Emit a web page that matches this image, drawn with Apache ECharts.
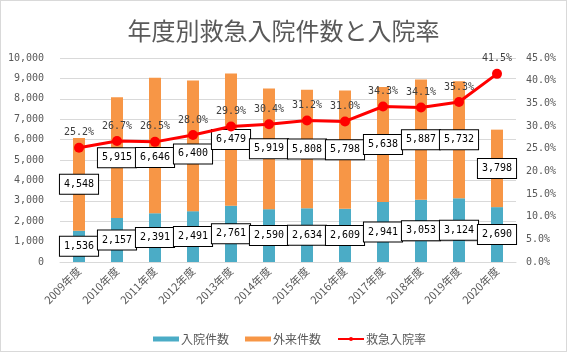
<!DOCTYPE html>
<html><head><meta charset="utf-8">
<script src="https://cdn.jsdelivr.net/npm/echarts@6/dist/echarts.min.js"></script>
<style>html,body{margin:0;padding:0;background:#fff}#c{width:567px;height:352px;box-sizing:border-box;border:1px solid #d9d9d9}</style>
</head><body><div id="c"></div>
<script>
const categories = ['2009年度','2010年度','2011年度','2012年度','2013年度','2014年度','2015年度','2016年度','2017年度','2018年度','2019年度','2020年度'];
const inpatient = [1536,2157,2391,2491,2761,2590,2634,2609,2941,3053,3124,2690];
const outpatient = [4548,5915,6646,6400,6479,5919,5808,5798,5638,5887,5732,3798];
const rate = [25.2,26.7,26.5,28.0,29.9,30.4,31.2,31.0,34.3,34.1,35.3,41.5];
const leftTicks = {min:0,max:10000,interval:1000};
const rightTicks = {min:0,max:45,interval:5};

const mono = '"DejaVu Sans Mono", monospace';
const txt = '#595959';
const boxLabel = {
  show:true, position:'inside', color:'#000', fontFamily:mono, fontSize:10,
  backgroundColor:'#fff', borderColor:'#000', borderWidth:1, padding:[5,4,4,4],
  formatter: p => p.value.toLocaleString('en-US')
};
// outpatient labels nudged down where they would collide with the rate line (as in the original)
const outData = outpatient.map((v,i) => {
  const clash = (i === 2 || i === 3);
  return clash ? {value:v, label:{offset:[0, i === 2 ? 12 : 8]}} : v;
});
const chart = echarts.init(document.getElementById('c'));
chart.setOption({
  animation:false,
  title:{text:'年度別救急入院件数と入院率', left:'center', top:13,
    textStyle:{fontFamily:'"Noto Sans CJK JP"', fontSize:24, fontWeight:'normal', color:'#595959'}},
  grid:{left:59, right:50, top:57, bottom:89},
  legend:{top:327, left:147, itemGap:16, itemWidth:26, itemHeight:5,
    textStyle:{fontFamily:'"Noto Sans CJK JP"', fontSize:12, color:txt, padding:[0,0,0,-3]},
    data:[{name:'入院件数', icon:'rect'},{name:'外来件数', icon:'rect'},{name:'救急入院率'}]},
  xAxis:{type:'category', data:categories,
    axisLine:{lineStyle:{color:'#d9d9d9'}}, axisTick:{show:false},
    axisLabel:{rotate:45, interval:0, color:txt, fontSize:11, fontFamily:'"Noto Sans CJK JP"', margin:7}},
  yAxis:[
    {type:'value', min:leftTicks.min, max:leftTicks.max, interval:leftTicks.interval,
      axisLabel:{color:txt, fontFamily:mono, fontSize:10, margin:16, formatter:v=>v.toLocaleString('en-US')},
      splitLine:{lineStyle:{color:'#d9d9d9'}}, axisLine:{show:false}, axisTick:{show:false}},
    {type:'value', min:rightTicks.min, max:rightTicks.max, interval:rightTicks.interval,
      axisLabel:{color:txt, fontFamily:mono, fontSize:10, margin:10, formatter:v=>v.toFixed(1)+'%'},
      splitLine:{show:false}, axisLine:{show:false}, axisTick:{show:false}}
  ],
  series:[
    {name:'入院件数', type:'bar', stack:'a', data:inpatient, barWidth:12,
      itemStyle:{color:'#4BACC6'}, label:boxLabel, z:2},
    {name:'外来件数', type:'bar', stack:'a', data:outData, barWidth:12,
      itemStyle:{color:'#F79646'}, label:boxLabel, z:2},
    {name:'救急入院率', type:'line', yAxisIndex:1, data:rate,
      lineStyle:{color:'#FF0000', width:3}, itemStyle:{color:'#FF0000'},
      symbol:'circle', symbolSize:10, z:3,
      label:{show:true, position:'top', distance:5, color:'#404040', fontFamily:mono, fontSize:10,
        formatter:p=>p.value.toFixed(1)+'%'}}
  ]
});
</script></body></html>
